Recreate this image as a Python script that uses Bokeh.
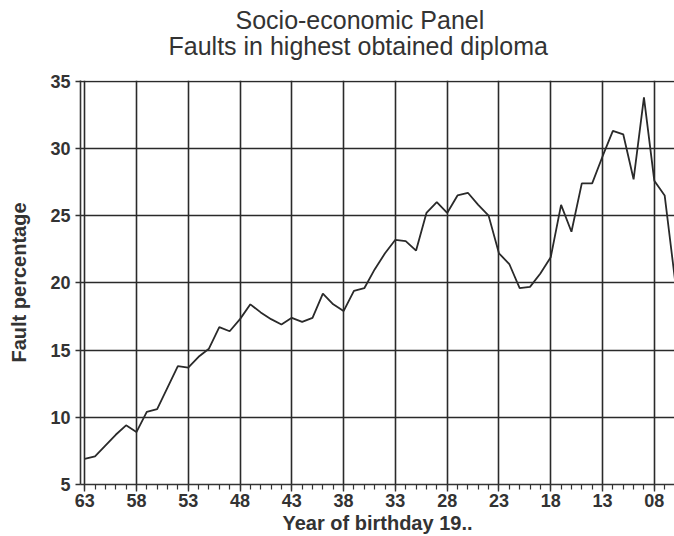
from bokeh.plotting import figure
from bokeh.models import Range1d, FixedTicker, Title
from bokeh.embed import file_html
from bokeh.resources import INLINE

# Data: year of birth (19..) and fault percentage
years = [63, 62, 61, 60, 59, 58, 57, 56, 55, 54, 53, 52, 51, 50, 49, 48, 47, 46, 45, 44,
         43, 42, 41, 40, 39, 38, 37, 36, 35, 34, 33, 32, 31, 30, 29, 28, 27, 26, 25, 24,
         23, 22, 21, 20, 19, 18, 17, 16, 15, 14, 13, 12, 11, 10, 9, 8, 7, 6]
fault_pct = [6.9, 7.1, 7.9, 8.7, 9.4, 8.9, 10.4, 10.6, 12.2, 13.8, 13.7, 14.5, 15.1, 16.7, 16.4, 17.3, 18.4, 17.8, 17.3, 16.9,
             17.4, 17.1, 17.4, 19.2, 18.4, 17.9, 19.4, 19.6, 21.0, 22.2, 23.2, 23.1, 22.4, 25.2, 26.0, 25.2, 26.5, 26.7, 25.8, 25.0,
             22.2, 21.4, 19.6, 19.7, 20.7, 21.9, 25.8, 23.8, 27.4, 27.4, 29.4, 31.3, 31.05, 27.7, 33.8, 27.6, 26.5, 20.2]

x_major_ticks = [63, 58, 53, 48, 43, 38, 33, 28, 23, 18, 13, 8]
x_minor_ticks = list(range(6, 64))
y_ticks = [5, 10, 15, 20, 25, 30, 35]
x_label_overrides = {8: "08"}

title_line1 = "Socio-economic Panel"
title_line2 = "Faults in highest obtained diploma"

FONT = "Liberation Sans"
INK = "#333333"

p = figure(width=674, height=536, output_backend="svg", toolbar_location=None,
           x_range=Range1d(63.4, 6.05), y_range=Range1d(5, 35.05),
           min_border_left=80, min_border_right=0, min_border_top=80, min_border_bottom=52)
p.title = None
p.outline_line_color = None
p.background_fill_color = "white"
p.border_fill_color = "white"

p.line(years, fault_pct, line_color="#2a2a2a", line_width=1.8)

t2 = Title(text=title_line2, align="left", offset=88, text_font=FONT, text_font_size="25px",
           text_font_style="normal", text_color=INK, standoff=42)
t1 = Title(text=title_line1, align="left", offset=155, text_font=FONT, text_font_size="25px",
           text_font_style="normal", text_color=INK, standoff=-50)
p.add_layout(t2, "above")
p.add_layout(t1, "above")

# x axis
xa = p.xaxis[0]
xa.ticker = FixedTicker(ticks=x_major_ticks, minor_ticks=x_minor_ticks)
xa.major_label_overrides = x_label_overrides
xa.axis_label = "Year of birthday 19.."
xa.axis_label_text_font = FONT
xa.axis_label_text_font_size = "20px"
xa.axis_label_text_font_style = "bold"
xa.axis_label_text_color = INK
xa.axis_label_standoff = 2
xa.major_label_text_font = FONT
xa.major_label_text_font_size = "18px"
xa.major_label_text_font_style = "bold"
xa.major_label_text_color = INK
xa.major_label_standoff = 2
xa.major_tick_out = 7
xa.major_tick_in = 0
xa.minor_tick_out = 5
xa.minor_tick_in = 0
xa.axis_line_color = INK
xa.axis_line_width = 1.6
xa.major_tick_line_color = INK
xa.major_tick_line_width = 1.4
xa.minor_tick_line_color = INK
xa.minor_tick_line_width = 1.2

# y axis
ya = p.yaxis[0]
ya.ticker = FixedTicker(ticks=y_ticks)
ya.axis_label = "Fault percentage"
ya.axis_label_text_font = FONT
ya.axis_label_text_font_size = "20px"
ya.axis_label_text_font_style = "bold"
ya.axis_label_text_color = INK
ya.axis_label_standoff = 17
ya.major_label_text_font = FONT
ya.major_label_text_font_size = "18px"
ya.major_label_text_font_style = "bold"
ya.major_label_text_color = INK
ya.major_label_standoff = 5
ya.major_tick_out = 5
ya.major_tick_in = 0
ya.minor_tick_line_color = None
ya.axis_line_color = INK
ya.axis_line_width = 1.6
ya.major_tick_line_color = INK
ya.major_tick_line_width = 1.4

# grids
p.xgrid.ticker = FixedTicker(ticks=x_major_ticks)
p.ygrid.ticker = FixedTicker(ticks=y_ticks)
for g in (p.xgrid[0], p.ygrid[0]):
    g.grid_line_color = "#2a2a2a"
    g.grid_line_width = 1.6
    g.grid_line_alpha = 1.0

open("out.html", "w").write(file_html(p, INLINE))
